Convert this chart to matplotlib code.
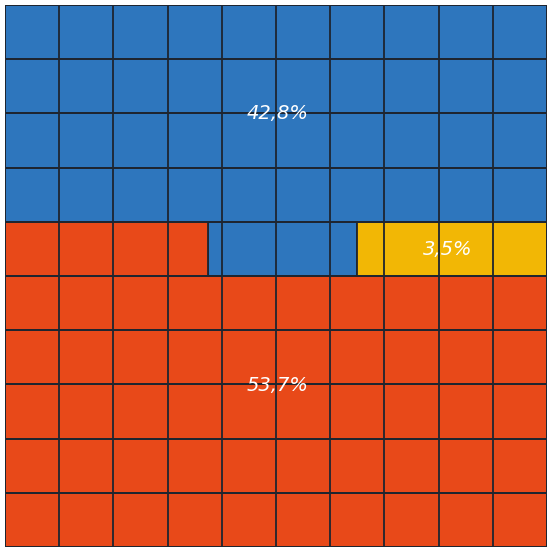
import matplotlib
matplotlib.use("Agg")
import matplotlib.pyplot as plt
from matplotlib.patches import Rectangle

categories = ["Blue", "Red", "Yellow"]
values = [42.75, 53.75, 3.5]
labels = ["42,8%", "53,7%", "3,5%"]
colors = ["#2e76bd", "#e84919", "#f2b705"]

n = 10
fig = plt.figure(figsize=(5.47, 5.48), dpi=100)
ax = fig.add_axes([5 / 547, 1 / 548, 542 / 547, 542 / 548])
ax.set_xlim(0, n)
ax.set_ylim(n, 0)
ax.axis("off")

edge = "#1e2530"
blue, red, yellow = values

def fill_rows(start_row, step, amount, from_left):
    row = start_row
    rects = []
    while amount > 1e-9:
        w = min(n, amount)
        x = 0 if from_left else n - w
        rects.append((x, row, w))
        amount -= w
        row += step
    return rects

red_rects = fill_rows(n - 1, -1, red, True)
blue_rects = fill_rows(0, 1, blue, True)
split_row = red_rects[-1][1]
red_part = red_rects[-1][2]
blue_part = blue_rects[-1][2]
blue_rects[-1] = (red_part, split_row, blue_part)
yellow_rects = [(n - yellow, split_row, yellow)]

for rects, c in [(blue_rects, colors[0]), (red_rects, colors[1]), (yellow_rects, colors[2])]:
    for x, y, w in rects:
        ax.add_patch(Rectangle((x, y), w, 1, facecolor=c, edgecolor=edge, lw=1.3, zorder=1))

for i in range(n + 1):
    ax.axvline(i, color=edge, lw=1.3, zorder=2)
    ax.axhline(i, color=edge, lw=1.3, zorder=2)

font = dict(color="white", fontsize=14, style="italic", family="DejaVu Sans",
            ha="center", va="center", zorder=3)
ax.text(5.02, 2.0, labels[0], **font)
ax.text(5.02, 7.02, labels[1], **font)
ax.text(8.17, 4.52, labels[2], **font)

fig.savefig("out.png", dpi=100)
